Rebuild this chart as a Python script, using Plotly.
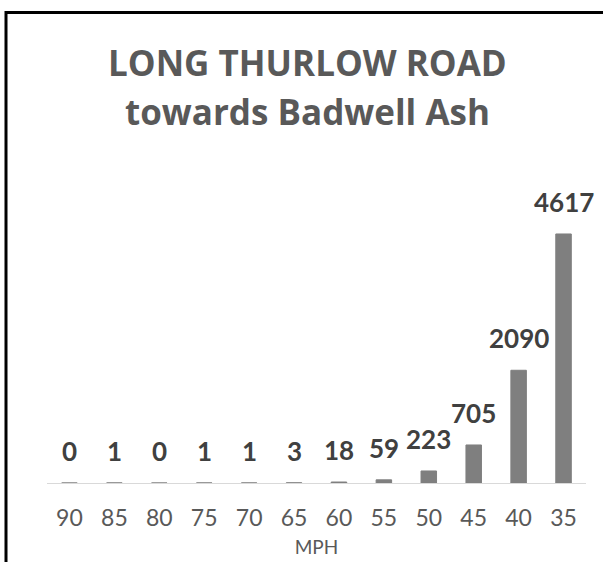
import plotly.graph_objects as go

categories = ["90", "85", "80", "75", "70", "65", "60", "55", "50", "45", "40", "35"]
counts = [0, 1, 0, 1, 1, 3, 18, 59, 223, 705, 2090, 4617]
title_lines = ["LONG THURLOW ROAD", "towards Badwell Ash"]
x_title = "MPH"

W, H = 603, 562
L, R, T, B = 47, 17, 213, 79
PW, PH = W - L - R, H - T - B

def px(xp):
    return (xp - L) / PW

def py(yp):
    return (H - B - yp) / PH

fig = go.Figure()
fig.add_trace(go.Bar(
    x=categories, y=counts,
    marker=dict(color="#7f7f7f", line=dict(color="#7f7f7f", width=1)),
    hoverinfo="skip",
))

for i, v in enumerate(counts):
    fig.add_annotation(x=i, y=v, text=f"<b>{v}</b>", showarrow=False,
                       yanchor="middle", yshift=32,
                       font=dict(family="Lato", size=26, color="#404040"))

for line, yc in zip(title_lines, (62.5, 111.5)):
    fig.add_annotation(xref="paper", yref="paper", x=px(307.5), y=py(yc), text=f"<b>{line}</b>",
                       showarrow=False, yanchor="middle",
                       font=dict(family="Open Sans", size=35, color="#595959"))

# frame
fig.add_shape(type="line", xref="paper", yref="paper", x0=px(5), x1=px(610), y0=py(12.5), y1=py(12.5),
              line=dict(color="black", width=3))
fig.add_shape(type="line", xref="paper", yref="paper", x0=px(6), x1=px(6), y0=py(11), y1=py(570),
              line=dict(color="black", width=3))

fig.update_layout(
    width=W, height=H,
    margin=dict(l=L, r=R, t=T, b=B, autoexpand=False),
    paper_bgcolor="white", plot_bgcolor="white",
    bargap=0.655, showlegend=False,
    xaxis=dict(
        type="category", range=[-0.5, 11.5], showline=True, linecolor="#d9d9d9", linewidth=1,
        showgrid=False, ticks="", ticklabelstandoff=14,
        tickfont=dict(family="Lato", size=23, color="#595959"),
        title=dict(text=x_title, standoff=11,
                   font=dict(family="Lato", size=19, color="#595959")),
    ),
    yaxis=dict(visible=False, range=[0, 5006]),
)

fig.write_html("out.html", config={"displayModeBar": False},
               post_script="document.body.style.margin='0';document.body.style.overflow='hidden';")
